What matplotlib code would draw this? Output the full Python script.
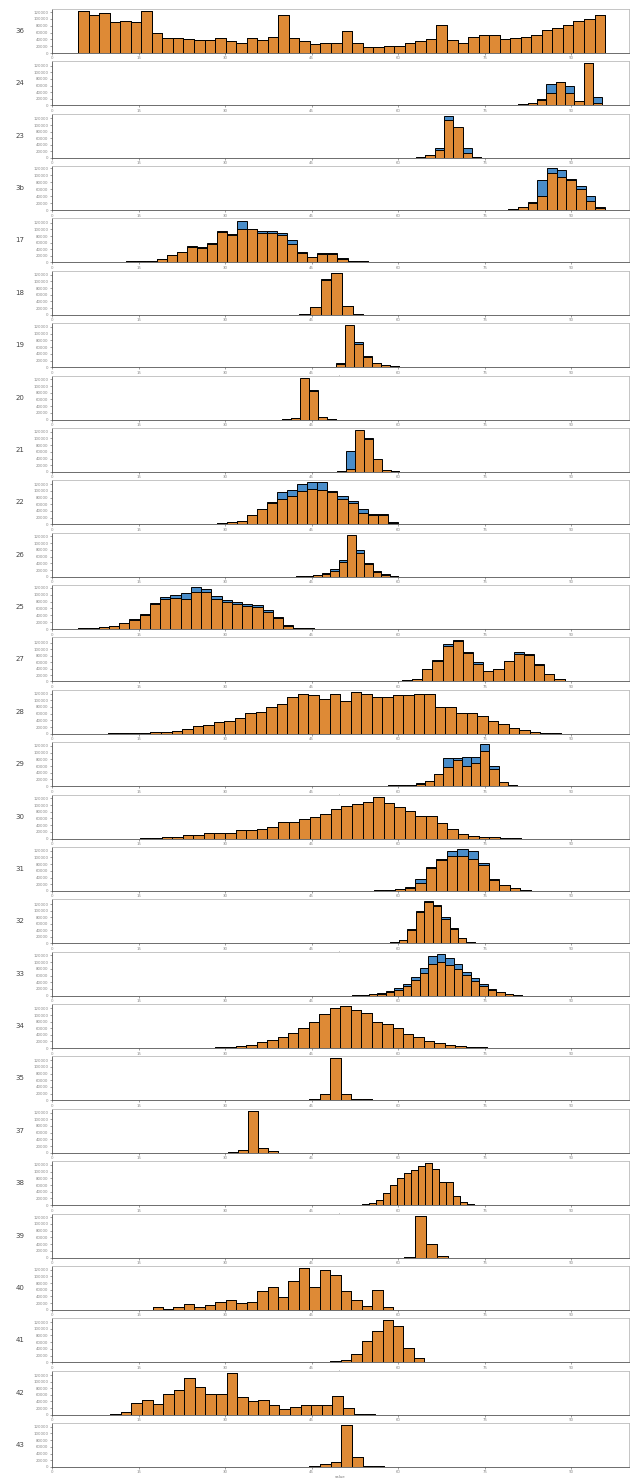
import numpy as np
import matplotlib
matplotlib.use("Agg")
import matplotlib.pyplot as plt
from matplotlib.ticker import MaxNLocator, FuncFormatter

# ---------------- data (per panel): bin start, bin width, orange counts, blue counts (thousands)
p01_start, p01_width = 4.51, 1.827
p01_orange = [123,113,118,90,93,90,123,60,45,45,40,38,38,44,36,29,44,38,48,113,45,
              35,25,30,28,65,28,18,18,20,20,28,35,42,82,37,30,47,53,53,42,45,48,53,68,72,82,93,100,112]
p01_blue = p01_orange

p02_start, p02_width = 77.6, 1.617
p02_orange = [1,2,3,6,15,37,72,39,12,127,8]
p02_blue   = [1,2,3,6,18,64,72,60,12,127,24]

p03_start, p03_width = 63.1, 1.617
p03_orange = [2,8,23,116,93,15,3]
p03_blue   = [2,8,30,128,80,30,3]

p04_start, p04_width = 79.1, 1.676
p04_orange = [3,8,20,40,105,95,85,60,25,5]
p04_blue   = [3,8,22,85,120,115,90,70,40,8]

p05_start, p05_width = 11.15, 1.742
p05_orange = [2,3,4,5,10,22,32,47,45,57,92,84,102,100,90,90,84,57,30,17,27,27,12,5,3,2]
p05_blue   = [2,3,4,5,10,22,33,50,48,60,95,86,127,102,95,95,88,67,32,18,28,28,13,5,3,2]

p06_start, p06_width = 42.86, 1.854
p06_orange = [3,22,105,125,25,4]
p06_blue   = [3,22,108,125,27,4]

p07_start, p07_width = 47.67, 1.56
p07_orange = [2,10,125,70,30,12,6,3]
p07_blue   = [2,12,120,75,32,14,6,3]

p08_start, p08_width = 39.86, 1.56
p08_orange = [2,6,125,85,8,2]
p08_blue   = [2,6,118,88,8,2]

p09_start, p09_width = 47.94, 1.533
p09_orange = [1,3,8,125,97,39,5,2]
p09_blue   = [1,3,62,110,102,20,5,2]

p10_start, p10_width = 28.57, 1.742
p10_orange = [3,6,10,27,45,63,77,85,100,105,103,95,77,63,35,27,27,5,2,2,1]
p10_blue   = [3,6,11,28,46,66,95,103,120,125,125,100,85,70,45,30,30,6,2,2,1]

p11_start, p11_width = 42.3, 1.473
p11_orange = [2,3,4,8,18,45,125,72,38,15,6,3]
p11_blue   = [2,3,5,10,22,50,118,80,42,18,7,3]

p12_start, p12_width = 4.53, 1.777
p12_orange = [2,3,6,10,18,27,42,72,88,90,88,108,108,88,78,72,68,65,50,32,10,3,2]
p12_blue   = [2,3,6,10,19,28,45,75,92,100,105,122,118,95,85,78,72,70,55,34,11,3,2]

p13_start, p13_width = 60.63, 1.763
p13_orange = [3,8,38,62,110,125,88,55,32,38,62,85,82,52,22,8,2]
p13_blue   = [3,8,40,65,117,130,90,60,33,40,64,92,85,54,23,8,2]

p14_start, p14_width = 9.76, 1.826
p14_orange = [1,2,2,3,5,5,8,15,22,27,35,37,48,62,65,80,88,110,118,115,105,118,98,125,
              120,110,110,115,115,118,120,80,80,62,62,52,38,30,16,12,5,2,2]
p14_blue = p14_orange

p15_start, p15_width = 58.19, 1.603
p15_orange = [3,3,5,8,15,35,57,77,60,70,105,50,13,3]
p15_blue   = [3,3,5,9,16,37,83,83,87,87,125,60,10,3]

p16_start, p16_width = 15.33, 1.833
p16_orange = [3,3,4,5,10,12,17,18,18,25,27,28,35,48,48,58,63,73,88,97,103,108,125,107,93,
              82,68,68,45,28,15,8,6,4,2,2]
p16_blue = p16_orange

p17_start, p17_width = 55.75, 1.812
p17_orange = [2,3,5,10,23,68,93,103,103,95,78,33,18,8,2]
p17_blue   = [2,3,5,11,35,71,95,118,125,118,82,35,19,8,2]

p18_start, p18_width = 58.58, 1.473
p18_orange = [3,10,40,95,125,115,75,45,15,5,2]
p18_blue   = [3,11,45,100,128,118,80,48,16,5,2]

p19_start, p19_width = 51.99, 1.473
p19_orange = [2,3,4,6,10,18,30,48,68,95,100,92,80,62,45,30,18,10,5,2]
p19_blue   = [2,3,5,8,13,22,36,57,82,118,125,112,95,72,52,34,20,11,5,2]

p20_start, p20_width = 28.22, 1.812
p20_orange = [3,4,5,8,18,25,32,45,60,78,103,120,127,115,105,78,72,60,42,33,22,15,8,5,3,3]
p20_blue = p20_orange

p21_start, p21_width = 42.79, 1.812
p21_orange = [2,3,18,125,18,5,3]
p21_blue = p21_orange

p22_start, p22_width = 30.5, 1.733
p22_orange = [3,8,125,15,4]
p22_blue = p22_orange

p23_start, p23_width = 53.73, 1.213
p23_orange = [2,5,15,35,60,82,95,105,118,125,108,70,70,28,8,3]
p23_blue = p23_orange

p24_start, p24_width = 61.0, 1.9
p24_orange = [3,125,40,6]
p24_blue = p24_orange

p25_start, p25_width = 17.42, 1.812
p25_orange = [8,2,8,18,8,15,25,30,20,25,55,68,38,87,125,68,120,103,55,30,12,58,8]
p25_blue = p25_orange

p26_start, p26_width = 44.6, 1.812
p26_orange = [2,2,4,8,25,62,92,125,108,43,12,2]
p26_blue = p26_orange

p27_start, p27_width = 10.1, 1.833
p27_orange = [2,8,35,45,32,62,75,112,83,63,63,127,53,42,45,28,17,23,30,30,30,57,20,3,2]
p27_blue = p27_orange

p28_start, p28_width = 44.6, 1.847
p28_orange = [3,8,15,125,30,3,2]
p28_blue = p28_orange

panel_labels = ["36","24","23","3b","17","18","19","20","21","22","26","25","27","28",
                "29","30","31","32","33","34","35","37","38","39","40","41","42","43"]

panels = [
    (p01_start, p01_width, p01_orange, p01_blue), (p02_start, p02_width, p02_orange, p02_blue),
    (p03_start, p03_width, p03_orange, p03_blue), (p04_start, p04_width, p04_orange, p04_blue),
    (p05_start, p05_width, p05_orange, p05_blue), (p06_start, p06_width, p06_orange, p06_blue),
    (p07_start, p07_width, p07_orange, p07_blue), (p08_start, p08_width, p08_orange, p08_blue),
    (p09_start, p09_width, p09_orange, p09_blue), (p10_start, p10_width, p10_orange, p10_blue),
    (p11_start, p11_width, p11_orange, p11_blue), (p12_start, p12_width, p12_orange, p12_blue),
    (p13_start, p13_width, p13_orange, p13_blue), (p14_start, p14_width, p14_orange, p14_blue),
    (p15_start, p15_width, p15_orange, p15_blue), (p16_start, p16_width, p16_orange, p16_blue),
    (p17_start, p17_width, p17_orange, p17_blue), (p18_start, p18_width, p18_orange, p18_blue),
    (p19_start, p19_width, p19_orange, p19_blue), (p20_start, p20_width, p20_orange, p20_blue),
    (p21_start, p21_width, p21_orange, p21_blue), (p22_start, p22_width, p22_orange, p22_blue),
    (p23_start, p23_width, p23_orange, p23_blue), (p24_start, p24_width, p24_orange, p24_blue),
    (p25_start, p25_width, p25_orange, p25_blue), (p26_start, p26_width, p26_orange, p26_blue),
    (p27_start, p27_width, p27_orange, p27_blue), (p28_start, p28_width, p28_orange, p28_blue),
]

# ---------------- figure
ORANGE = "#de8a36"
BLUE = "#4a8dc9"

fig, axes = plt.subplots(len(panels), 1, figsize=(6.31, 14.81), dpi=100)
fig.subplots_adjust(left=52/631, right=629/631, top=1-9/1481, bottom=1-1467/1481, hspace=0.19)

fmt = FuncFormatter(lambda v, p: f"{int(round(v*1000)):d}")

for ax, (start, width, orange, blue), lab in zip(axes, panels, panel_labels):
    edges_o = start + width * np.arange(len(orange))
    edges_b = start + width * np.arange(len(blue))
    ax.bar(edges_b, blue, width=width, align="edge", color=BLUE,
           edgecolor="black", linewidth=0.7, zorder=2)
    ax.bar(edges_o, orange, width=width, align="edge", color=ORANGE,
           edgecolor="black", linewidth=0.7, zorder=3)
    ax.set_xlim(0, 100)
    ax.set_ylim(bottom=0)
    ax.yaxis.set_major_locator(MaxNLocator(8))
    ax.yaxis.set_major_formatter(fmt)
    ax.xaxis.set_major_locator(MaxNLocator(8))
    ax.tick_params(axis="both", labelsize=2.8, length=1.5, width=0.4,
                   pad=1, colors="#555555", labelcolor="#888888")
    for side in ("top", "right"):
        ax.spines[side].set_color("#bbbbbb")
        ax.spines[side].set_linewidth(0.6)
    for side in ("left", "bottom"):
        ax.spines[side].set_color("#555555")
        ax.spines[side].set_linewidth(0.6)
    ax.set_ylabel(lab, fontsize=5, rotation=0, color="#444444", labelpad=10, va="center")
    ax.set_xlabel("value", fontsize=2.8, color="#777777", labelpad=0.5)

fig.savefig("out.png", dpi=100)
